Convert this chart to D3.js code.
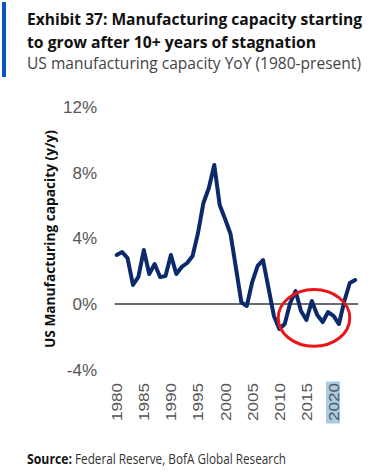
<!DOCTYPE html>
<html>
<head>
<meta charset="utf-8">
<script src="https://cdn.jsdelivr.net/npm/d3@7/dist/d3.min.js"></script>
<style>
  html, body { margin: 0; padding: 0; background: #fff; }
  svg { display: block; }
</style>
</head>
<body>
<svg id="chart" width="380" height="472"></svg>
<script>
// ---- Data ----
const years = d3.range(1980, 2025);
const capacityYoY = [
  2.99, 3.17, 2.80, 1.16, 1.65, 3.29, 1.83, 2.44, 1.65, 1.70,
  2.99, 1.83, 2.26, 2.50, 2.93, 4.33, 6.16, 7.07, 8.48, 6.04,
  5.18, 4.27, 2.20, 0.10, -0.12, 1.34, 2.32, 2.68, 0.98, -0.73,
  -1.52, -1.22, 0.06, 0.79, -0.43, -0.98, 0.18, -0.67, -1.10, -0.49,
  -0.73, -1.22, 0.18, 1.28, 1.46
];
const yTicks = [-4, 0, 4, 8, 12];
const xTickYears = [1980, 1985, 1990, 1995, 2000, 2005, 2010, 2015, 2020];
const highlightYear = 2020;
const circled = { year: 2016.4, value: -0.85, halfYears: 6.6, halfValue: 1.73 };

const titleLines = [
  "Exhibit 37: Manufacturing capacity starting",
  "to grow after 10+ years of stagnation"
];
const subtitle = "US manufacturing capacity YoY (1980-present)";
const yAxisTitle = "US Manufacturing capacity (y/y)";
const sourceBold = "Source:";
const sourceText = "Federal Reserve, BofA Global Research";

// ---- Drawing ----
const svg = d3.select("#chart");

const x = d3.scaleLinear().domain([1980, 2024]).range([116.7, 355.2]);
const y = d3.scaleLinear().domain([-4, 12]).range([369.6, 107.2]);

// Header
svg.append("rect").attr("x", 2).attr("y", 2).attr("width", 4).attr("height", 75)
  .attr("fill", "#0a52c6");

const titleFont = "'Open Sans', 'Liberation Sans', sans-serif";
function headerText(str, bx, by, w, weight, color, size) {
  svg.append("text")
    .attr("transform", `translate(${bx},${by}) scale(1,1.12)`)
    .attr("x", 0).attr("y", 0)
    .attr("font-family", titleFont).attr("font-weight", weight).attr("font-size", size)
    .attr("fill", color)
    .attr("textLength", w).attr("lengthAdjust", "spacingAndGlyphs")
    .text(str);
}
headerText(titleLines[0], 27, 25, 335, 700, "#111", 15);
headerText(titleLines[1], 27, 48, 289, 700, "#111", 15);
headerText(subtitle, 27, 69, 334, 400, "#444", 15);

// Y-axis tick labels
svg.append("g").selectAll("text").data(yTicks).join("text")
  .attr("x", 97).attr("y", d => y(d)).attr("dy", "0.35em")
  .attr("text-anchor", "end")
  .attr("font-family", "'Liberation Sans', Arial, sans-serif")
  .attr("font-size", 17).attr("fill", "#555")
  .text(d => d + "%");

// Y-axis title
svg.append("text")
  .attr("transform", `translate(55, ${(130 + 348) / 2}) rotate(-90)`)
  .attr("text-anchor", "middle")
  .attr("font-family", titleFont).attr("font-weight", 700).attr("font-size", 14)
  .attr("fill", "#111")
  .attr("textLength", 218).attr("lengthAdjust", "spacingAndGlyphs")
  .text(yAxisTitle);

// X labels (rotated)
const xl = svg.append("g");
xl.append("rect")
  .attr("x", x(highlightYear) - 7.5).attr("y", 381.5)
  .attr("width", 14).attr("height", 42)
  .attr("fill", "#a9cbe3");
xl.selectAll("text").data(xTickYears).join("text")
  .attr("transform", d => `translate(${x(d)}, 383) rotate(-90)`)
  .attr("text-anchor", "end").attr("dy", "0.36em")
  .attr("font-family", "'Liberation Sans', Arial, sans-serif")
  .attr("font-size", 15).attr("fill", "#555")
  .attr("textLength", 38).attr("lengthAdjust", "spacingAndGlyphs")
  .text(d => d);

// Zero line
svg.append("line")
  .attr("x1", x.range()[0] - 2).attr("x2", x.range()[1] + 3)
  .attr("y1", y(0)).attr("y2", y(0))
  .attr("stroke", "#6b6b6b").attr("stroke-width", 2);

// Series line
const line = d3.line().x((d, i) => x(years[i])).y(d => y(d)).curve(d3.curveLinear);
svg.append("path").datum(capacityYoY)
  .attr("d", line)
  .attr("fill", "none").attr("stroke", "#0b2a6b")
  .attr("stroke-width", 4).attr("stroke-linejoin", "round").attr("stroke-linecap", "round");

// Red ellipse annotation
svg.append("ellipse")
  .attr("cx", x(circled.year)).attr("cy", y(circled.value))
  .attr("rx", x(circled.year + circled.halfYears) - x(circled.year))
  .attr("ry", y(circled.value - circled.halfValue) - y(circled.value))
  .attr("fill", "none").attr("stroke", "#e8161b").attr("stroke-width", 3);

// Source
svg.append("text").attr("x", 27).attr("y", 464)
  .attr("font-family", titleFont).attr("font-size", 14).attr("font-weight", 700).attr("fill", "#111")
  .attr("textLength", 45).attr("lengthAdjust", "spacingAndGlyphs")
  .text(sourceBold);
svg.append("text").attr("x", 75).attr("y", 464)
  .attr("font-family", titleFont).attr("font-size", 14).attr("fill", "#333")
  .attr("textLength", 211).attr("lengthAdjust", "spacingAndGlyphs")
  .text(sourceText);
</script>
</body>
</html>
